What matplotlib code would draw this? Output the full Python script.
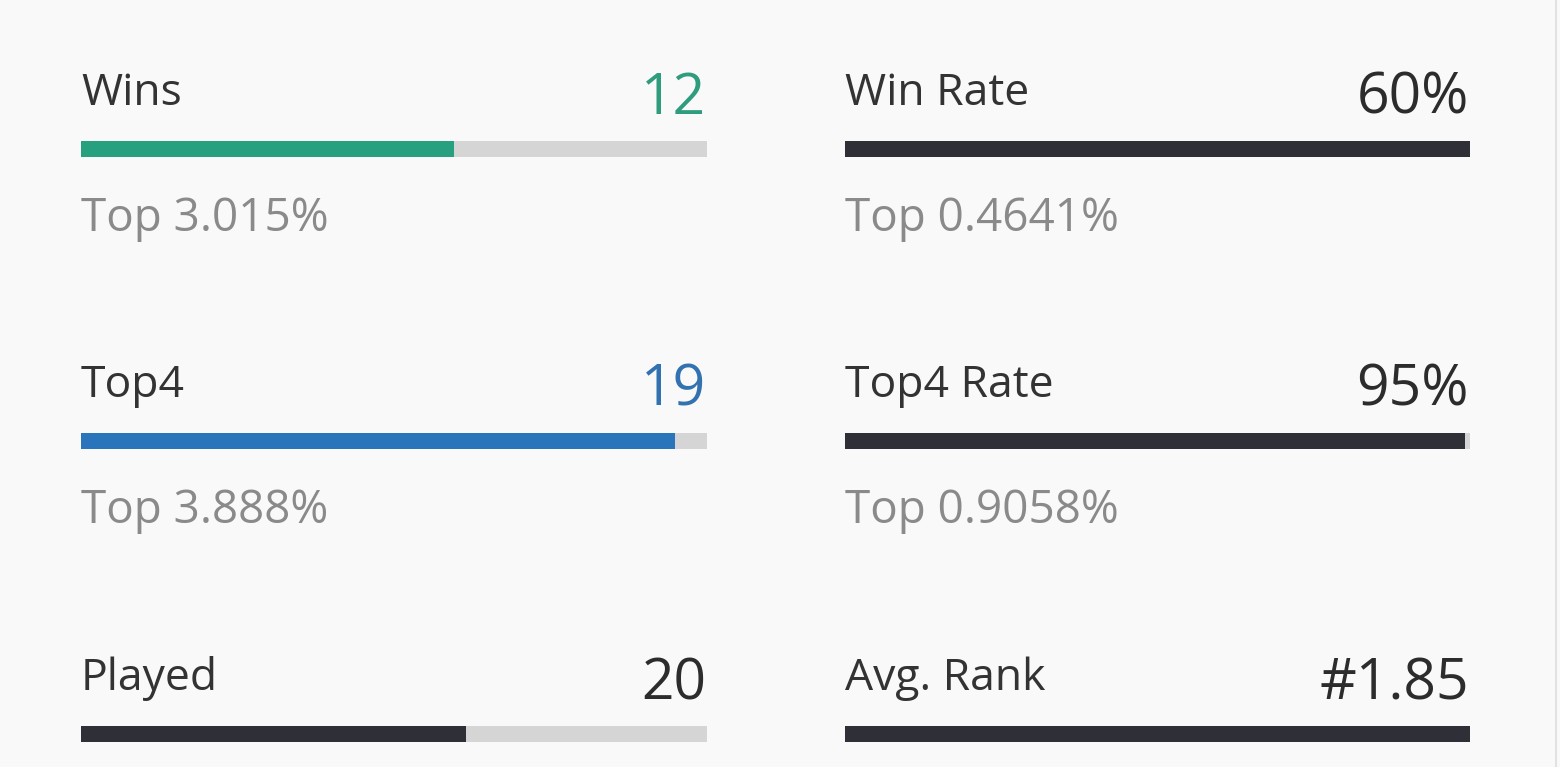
import matplotlib.pyplot as plt

plt.rcParams['font.family'] = ['Open Sans', 'DejaVu Sans']

# stat cards, left column then right column
labels = ['Wins', 'Top4', 'Played', 'Win Rate', 'Top4 Rate', 'Avg. Rank']
values = ['12', '19', '20', '60%', '95%', '#1.85']
fills = [0.596, 0.949, 0.615, 1.0, 0.992, 1.0]
subtitles = ['Top 3.015%', 'Top 3.888%', '', 'Top 0.4641%', 'Top 0.9058%', '']

col_x = [(81, 707), (845, 1470)]
row_y = [0, 292, 585]
bar_colors = ['#27a07f', '#2a74bb', '#2e2f37', '#2e2f37', '#2e2f37', '#2e2f37']
num_colors = ['#2f9c7e', '#3272b0', '#2c2c2c', '#2c2c2c', '#2c2c2c', '#2c2c2c']

fig = plt.figure(figsize=(15.6, 7.67), dpi=100)
fig.patch.set_facecolor('#f9f9f9')
ax = fig.add_axes([0, 0, 1, 1])
ax.set_xlim(0, 1560)
ax.set_ylim(767, 0)
ax.axis('off')

for i, lab in enumerate(labels):
    x0, x1 = col_x[i // 3]
    dy = row_y[i % 3]
    w = x1 - x0
    ax.barh(149 + dy, w, left=x0, height=16, color='#d5d5d5', zorder=1)
    ax.barh(149 + dy, w * fills[i], left=x0, height=16, color=bar_colors[i], zorder=2)
    ax.text(x0, 105 + dy, lab, fontsize=32, color='#333333', va='baseline', ha='left')
    ax.text(x1 - 1, 114 + dy, values[i], fontsize=41, color=num_colors[i],
            va='baseline', ha='right')
    if subtitles[i]:
        ax.text(x0, 231 + dy, subtitles[i], fontsize=33, color='#8a8a8a',
                va='baseline', ha='left')

ax.axvline(1556, color='#e2e2e2', lw=1.5)

fig.savefig('out.png', dpi=100, facecolor=fig.get_facecolor())
